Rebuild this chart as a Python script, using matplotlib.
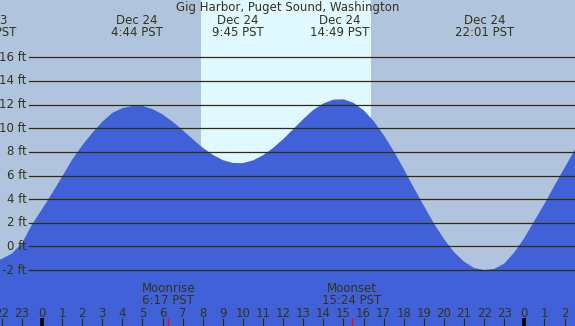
import matplotlib
matplotlib.use("Agg")
import matplotlib.pyplot as plt
from matplotlib.transforms import blended_transform_factory

# ---------------- data (hours relative to Dec 24 00:00 PST) ----------------
title = "Gig Harbor, Puget Sound, Washington"
hours = [-2.5, -2.0, -1.5, -1.0, -0.5, 0.0, 0.5, 1.0, 1.5, 2.0, 2.5, 3.0, 3.5, 4.0,
         4.5, 5.0, 5.5, 6.0, 6.5, 7.0, 7.5, 8.0, 8.5, 9.0, 9.5, 10.0, 10.5, 11.0,
         11.5, 12.0, 12.5, 13.0, 13.5, 14.0, 14.5, 15.0, 15.5, 16.0, 16.5, 17.0,
         17.5, 18.0, 18.5, 19.0, 19.5, 20.0, 20.5, 21.0, 21.5, 22.0, 22.5, 23.0,
         23.5, 24.0, 24.5, 25.0, 25.5, 26.0, 26.5, 27.0]
heights_ft = [-1.4, -1.05, -0.6, 0.25, 1.85, 3.15, 4.5, 5.9, 7.35, 8.55, 9.6, 10.55,
              11.3, 11.7, 11.88, 11.88, 11.62, 11.17, 10.55, 9.83, 9.07, 8.35, 7.75,
              7.30, 7.06, 7.05, 7.28, 7.72, 8.33, 9.08, 9.92, 10.78, 11.55, 12.1,
              12.42, 12.45, 12.15, 11.53, 10.61, 9.43, 8.06, 6.55, 4.97, 3.43, 1.95,
              0.63, -0.47, -1.29, -1.82, -2.0, -1.9, -1.45, -0.5, 0.72, 2.17, 3.6,
              5.15, 6.65, 8.15, 9.3]

extreme_hours = [-2.73, 4.733, 9.75, 14.817, 22.017]
extreme_dates = ["Dec 23", "Dec 24", "Dec 24", "Dec 24", "Dec 24"]
extreme_times = ["21:16 PST", "4:44 PST", "9:45 PST", "14:49 PST", "22:01 PST"]

sunrise_h = 7.92   # 7:55
sunset_h = 16.37   # 16:22

moon_hours = [6.283, 15.4]
moon_names = ["Moonrise", "Moonset"]
moon_times = ["6:17 PST", "15:24 PST"]

level_ft = [-2, 0, 2, 4, 6, 8, 10, 12, 14, 16]
hour_ticks = list(range(-2, 27))

# ---------------- style ----------------
W, H = 575, 326
night_col = "#b0c4de"
day_col = "#e0f8ff"
water_col = "#4161d9"
line_col = "#2e2e0c"
text_col = "#333318"
fs = 8.5

x0, x1 = -2.09, 26.52
y0, y1 = -6.73, 20.85

fig = plt.figure(figsize=(W / 100, H / 100), dpi=100)
fig.patch.set_facecolor(night_col)
ax = fig.add_axes([0, 0, 1, 1])
ax.set_xlim(x0, x1)
ax.set_ylim(y0, y1)
ax.axis("off")
ax.set_facecolor(night_col)

ax.axvspan(sunrise_h, sunset_h, color=day_col, lw=0, zorder=0)
ax.fill_between(hours, heights_ft, y0 - 5, color=water_col, lw=0, zorder=1)

def py(px):
    return 1 - px / H

bt = blended_transform_factory(ax.transData, ax.transAxes)
bt_lab = blended_transform_factory(ax.transAxes, ax.transData)

for lv in level_ft:
    ax.axhline(lv, xmin=29 / W, xmax=1, color=line_col, lw=0.9, zorder=2)
    ax.text(26.5 / W, lv, f"{lv} ft", transform=bt_lab, ha="right", va="center",
            fontsize=fs, color=text_col, zorder=3)

ax.text(0.5, py(10.5), title, transform=ax.transAxes, ha="center", va="baseline",
        fontsize=fs, color=text_col, zorder=3)

for h, d, t in zip(extreme_hours, extreme_dates, extreme_times):
    ax.text(h, py(24), d, transform=bt, ha="center", va="baseline",
            fontsize=fs, color=text_col, zorder=3, clip_on=False)
    ax.text(h, py(36), t, transform=bt, ha="center", va="baseline",
            fontsize=fs, color=text_col, zorder=3, clip_on=False)

for h, n, t in zip(moon_hours, moon_names, moon_times):
    ax.text(h, py(292), n, transform=bt, ha="center", va="baseline",
            fontsize=fs, color=text_col, zorder=3)
    ax.text(h, py(304.3), t, transform=bt, ha="center", va="baseline",
            fontsize=fs, color=text_col, zorder=3)
    ax.plot([h, h], [0, py(318)], transform=bt, color="#ff0000", lw=1.0,
            solid_capstyle="butt", zorder=4)

for h in hour_ticks:
    ax.text(h, py(316.7), str(h % 24), transform=bt, ha="center", va="baseline",
            fontsize=fs, color=text_col, zorder=3)
    if h % 24 == 0:
        ax.plot([h, h], [0, py(318)], transform=bt, color="#000000", lw=2.6,
                solid_capstyle="butt", zorder=4)
    else:
        ax.plot([h, h], [0, py(318)], transform=bt, color=line_col, lw=0.8,
                solid_capstyle="butt", zorder=4)

fig.savefig("out.png", dpi=100, facecolor=night_col)
